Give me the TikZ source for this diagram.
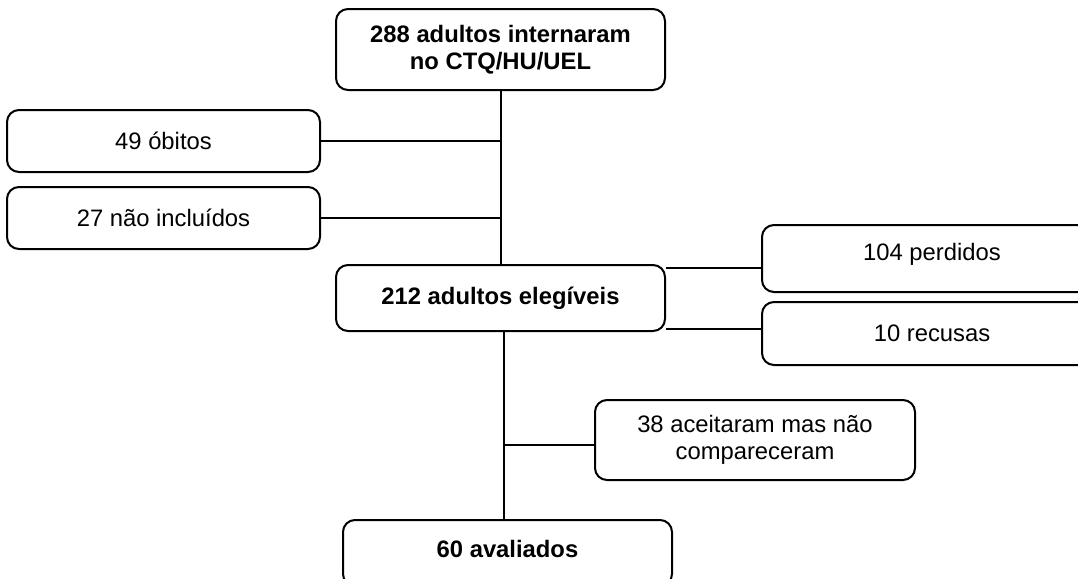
\documentclass[tikz,border=0pt]{standalone}
\usepackage{fontspec}
\setmainfont{Liberation Sans}
\begin{document}
\begin{tikzpicture}[x=0.5pt,y=-0.5pt,line width=1pt,
box/.style={draw,rounded corners=6pt,align=center,inner sep=0pt,font=\fontsize{11.9}{13.5}\selectfont},
bbox/.style={box,font=\fontsize{11.9}{13.5}\selectfont\bfseries}]
\useasboundingbox(0,0)rectangle(1078,579);
\clip(0,0)rectangle(1078,579);
\node[bbox,minimum width=164.5pt,minimum height=40.5pt](adm)at(500.5,49.5){288 adultos internaram\\no CTQ/HU/UEL};
\node[box,minimum width=156.5pt,minimum height=31pt](obitos)at(163.5,141){49 óbitos};
\node[box,minimum width=156.5pt,minimum height=31pt](naoinc)at(163.5,218){27 não incluídos};
\node[bbox,minimum width=164.5pt,minimum height=33pt](eleg)at(500.5,298){212 adultos elegíveis};
\node[box,minimum width=170pt,minimum height=33.5pt,text depth=6.5pt](perd)at(932,258.5){104 perdidos};
\node[box,minimum width=170pt,minimum height=31.5pt](recus)at(932,333.5){10 recusas};
\node[box,minimum width=160pt,minimum height=40pt](aceit)at(755,440){38 aceitaram mas não\\compareceram};
\node[bbox,minimum width=164.5pt,minimum height=33pt,text depth=4pt](aval)at(507.5,553){60 avaliados};
\draw(adm)--(eleg);
\draw(obitos)--(adm.south|-obitos);
\draw(naoinc)--(adm.south|-naoinc);
\draw(eleg.east|-0,268)--(perd.west|-0,268);
\draw(eleg.east|-0,329)--(recus.west|-0,329);
\draw([xshift=1.5pt]eleg.south)--([xshift=1.5pt]eleg.south|-aval.north);
\draw(aceit.west|-0,445)--([xshift=1.5pt]eleg.south|-0,445);
\end{tikzpicture}
\end{document}
